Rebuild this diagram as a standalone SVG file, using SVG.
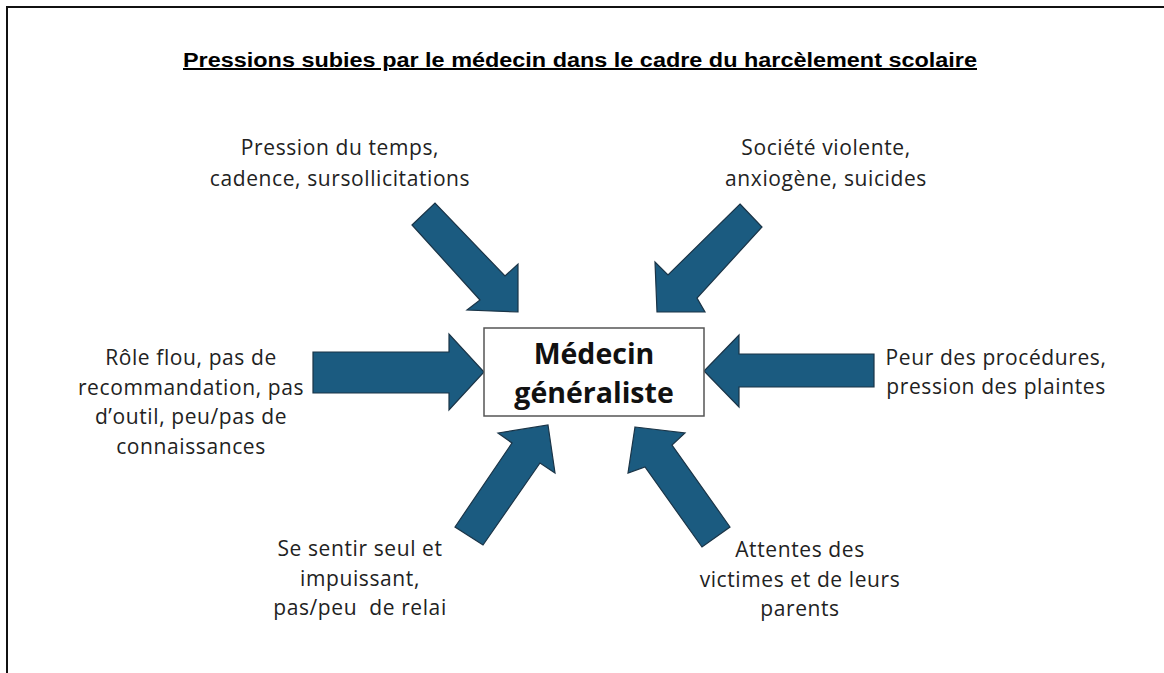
<svg xmlns="http://www.w3.org/2000/svg" width="1164" height="673" viewBox="0 0 1164 673">
<style>
.arrow{fill:#1b5b80;stroke:#1a3447;stroke-width:1.2;stroke-linejoin:miter}
.lbl{font-family:"Open Sans","Liberation Sans",sans-serif;font-size:21px;letter-spacing:0.6px;fill:#222;text-anchor:middle}
.title{font-family:"Liberation Sans",Arial,sans-serif;font-size:20px;font-weight:bold;fill:#000;text-anchor:middle;text-decoration:underline}
.box{fill:#fff;stroke:#555;stroke-width:1.5}
.boxt{font-family:"Open Sans","Liberation Sans",sans-serif;font-size:28.5px;font-weight:bold;fill:#111;text-anchor:middle}
</style>
<rect x="0" y="0" width="1164" height="673" fill="#fff"/>
<path d="M7,680 V7 H1170" fill="none" stroke="#111" stroke-width="2"/>
<text class="title" x="580" y="67" textLength="794" lengthAdjust="spacingAndGlyphs">Pressions subies par le médecin dans le cadre du harcèlement scolaire</text>
<g id="connectors">
<polygon class="arrow" points="412,225 435,203 505,276 518,264 518,312 467,310 480,300"/>
<polygon class="arrow" points="740,204 762,227 697,298 705,312 657,312 655,262 668,275"/>
<polygon class="arrow" points="313,352 449,352 449,334 484,372 449,410 449,393 313,393"/>
<polygon class="arrow" points="874,354 739,354 739,335 704,371 739,407 739,387 874,387"/>
<polygon class="arrow" points="548,425 555,473 540,463 483,545 455,527 512,443 498,433"/>
<polygon class="arrow" points="635,427 685,433 672,445 730,527 702,547 645,467 628,473"/>
</g>
<g id="center">
<rect class="box" x="484" y="328" width="220" height="88"/>
<text class="boxt" x="594" y="364">Médecin</text>
<text class="boxt" x="594" y="403">généraliste</text>
</g>
<g id="n-temps">
<text class="lbl" x="340" y="155">Pression du temps,</text>
<text class="lbl" x="340" y="186">cadence, sursollicitations</text>
</g>
<g id="n-societe">
<text class="lbl" x="826" y="155">Société violente,</text>
<text class="lbl" x="826" y="186">anxiogène, suicides</text>
</g>
<g id="n-role">
<text class="lbl" x="191" y="365">Rôle flou, pas de</text>
<text class="lbl" x="191" y="395">recommandation, pas</text>
<text class="lbl" x="191" y="424">d’outil, peu/pas de</text>
<text class="lbl" x="191" y="454">connaissances</text>
</g>
<g id="n-peur">
<text class="lbl" x="996" y="365">Peur des procédures,</text>
<text class="lbl" x="996" y="394">pression des plaintes</text>
</g>
<g id="n-seul">
<text class="lbl" x="360" y="556">Se sentir seul et</text>
<text class="lbl" x="360" y="586">impuissant,</text>
<text class="lbl" x="360" y="615" xml:space="preserve">pas/peu  de relai</text>
</g>
<g id="n-attentes">
<text class="lbl" x="800" y="557">Attentes des</text>
<text class="lbl" x="800" y="587">victimes et de leurs</text>
<text class="lbl" x="800" y="616">parents</text>
</g>
</svg>
